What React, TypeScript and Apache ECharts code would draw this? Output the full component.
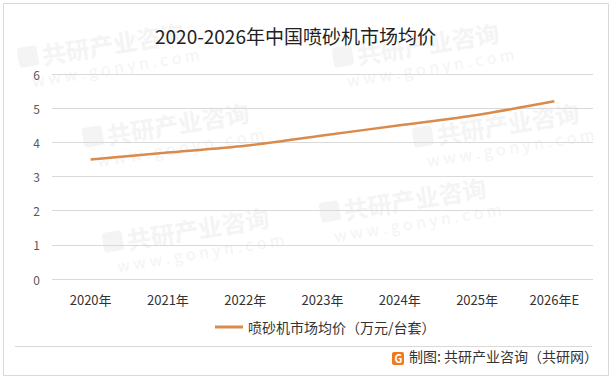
import React, { useEffect, useRef } from "react";
import * as echarts from "echarts";

const title = "2020-2026年中国喷砂机市场均价";
const categories = ["2020年", "2021年", "2022年", "2023年", "2024年", "2025年", "2026年E"];
const seriesName = "喷砂机市场均价（万元/台套）";
const values = [3.5, 3.7, 3.9, 4.2, 4.5, 4.8, 5.2];
const yTicks = [0, 1, 2, 3, 4, 5, 6];
const footer = "制图: 共研产业咨询（共研网）";
const wmMain = "共研产业咨询";
const wmSub = "w w w . g o n y n . c o m";
const wmSpots: [number, number][] = [
  [85, 150], [322, 225], [335, 70], [105, 255], [415, 150], [20, 70],
];

const FONT = "'Noto Sans CJK SC', 'Microsoft YaHei', sans-serif";

export default function App() {
  const ref = useRef<HTMLDivElement>(null);
  useEffect(() => {
    if (!ref.current) return;
    const chart = echarts.init(ref.current, null, { renderer: "svg" });
    const wm: any[] = [];
    wmSpots.forEach(([x, y]) => {
      wm.push({
        type: "group",
        x,
        y,
        rotation: 0.16,
        silent: true,
        z: 0,
        children: [
          { type: "rect", shape: { x: 0, y: -22, width: 20, height: 20, r: 3 }, style: { fill: "#F4F4F4" } },
          { type: "text", x: 24, y: -24, style: { text: wmMain, font: `bold 24px ${FONT}`, fill: "#F4F4F4" } },
          { type: "text", x: 10, y: 4, style: { text: wmSub, font: `16px ${FONT}`, fill: "#F4F4F4" } },
        ],
      });
    });
    chart.setOption({
      animation: false,
      backgroundColor: "#fff",
      title: {
        text: title,
        left: 150,
        top: 21,
        textStyle: { fontFamily: FONT, fontSize: 19, fontWeight: "normal", color: "#222" },
      },
      grid: { left: 52, right: 21, top: 74, bottom: 101, containLabel: false },
      xAxis: {
        type: "category",
        data: categories,
        boundaryGap: true,
        axisLine: { show: false },
        axisTick: { show: false },
        axisLabel: { color: "#333", fontSize: 13, fontFamily: FONT, margin: 14 },
      },
      yAxis: {
        type: "value",
        min: 0,
        max: 6,
        interval: 1,
        axisLabel: { color: "#595959", fontSize: 12, fontFamily: FONT, margin: 12, formatter: (v: number) => (yTicks.includes(v) ? String(v) : "") },
        splitLine: { lineStyle: { color: "#D9D9D9", width: 1 } },
        axisLine: { show: false },
        axisTick: { show: false },
      },
      legend: {
        bottom: 41,
        left: 210,
        itemWidth: 28,
        itemHeight: 3,
        itemGap: 4,
        icon: "rect",
        textStyle: { color: "#333", fontSize: 14, fontFamily: FONT },
        data: [seriesName],
      },
      series: [
        {
          name: seriesName,
          type: "line",
          data: values,
          smooth: 0.25,
          symbol: "none",
          lineStyle: { color: "#DA8A4B", width: 2.5 },
          itemStyle: { color: "#DA8A4B" },
          z: 5,
        },
      ],
      graphic: [
        ...wm,
        {
          type: "rect",
          shape: { x: 3.5, y: 3.5, width: 605, height: 372 },
          style: { fill: "none", stroke: "#D9D9D9", lineWidth: 1 },
          silent: true,
          z: 10,
        },
        {
          type: "line",
          shape: { x1: 15, y1: 346.5, x2: 592, y2: 346.5 },
          style: { stroke: "#D9D9D9", lineWidth: 1 },
          z: 10,
        },
        {
          type: "rect",
          shape: { x: 392, y: 352, width: 12, height: 13, r: 2 },
          style: { fill: "#F07A1A" },
          z: 10,
        },
        {
          type: "text",
          x: 394.5,
          y: 352,
          style: { text: "G", font: `bold 11px ${FONT}`, fill: "#fff" },
          z: 11,
        },
        {
          type: "text",
          x: 409,
          y: 349,
          style: { text: footer, font: `14px ${FONT}`, fill: "#333" },
          z: 10,
        },
      ],
    });
    return () => chart.dispose();
  }, []);
  return <div ref={ref} style={{ position: "fixed", left: 0, top: 0, width: 614, height: 380 }} />;
}
